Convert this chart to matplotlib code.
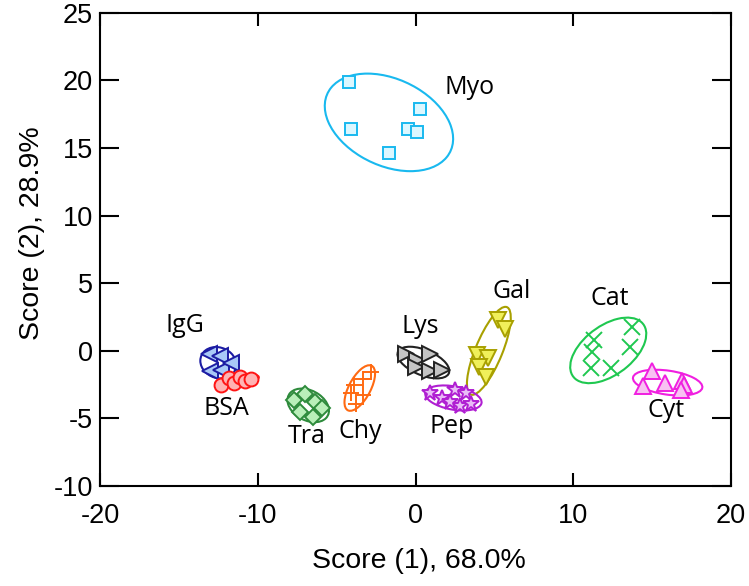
import numpy as np
import matplotlib
matplotlib.use("Agg")
import matplotlib.pyplot as plt
from matplotlib.patches import Ellipse

# PCA scores per protein (score 1, score 2)
names = ["Myo", "IgG", "BSA", "Tra", "Chy", "Lys", "Gal", "Pep", "Cat", "Cyt"]

myo_x = [-4.2, 0.3, -4.1, -0.5, 0.1, -1.7]
myo_y = [19.9, 17.9, 16.4, 16.4, 16.2, 14.6]
igg_x = [-13.1, -13.0, -12.4, -12.3, -11.7]
igg_y = [-0.2, -1.5, -0.4, -1.4, -0.9]
bsa_x = [-12.3, -11.8, -11.5, -11.1, -10.8, -10.4]
bsa_y = [-2.5, -2.0, -2.4, -1.9, -2.2, -2.1]
tra_x = [-7.7, -7.0, -6.4, -7.3, -5.9, -6.5]
tra_y = [-3.6, -3.2, -3.8, -4.5, -4.2, -4.9]
chy_x = [-2.8, -3.3, -3.9, -4.1, -3.3, -3.8]
chy_y = [-1.6, -2.1, -2.5, -3.1, -3.3, -3.9]
lys_x = [-0.6, 0.1, 0.9, 0.0, 0.9, 1.7]
lys_y = [-0.2, -0.7, -0.2, -1.2, -1.5, -1.4]
gal_x = [5.2, 5.7, 3.9, 4.6, 4.0, 4.5]
gal_y = [2.3, 1.6, -0.3, -0.5, -1.2, -1.9]
pep_x = [0.9, 1.7, 2.5, 3.2, 2.8, 3.5, 2.2]
pep_y = [-3.1, -3.5, -2.9, -3.1, -4.1, -3.9, -3.8]
cat_x = [11.3, 13.7, 11.2, 13.6, 11.1, 12.4]
cat_y = [0.8, 1.8, -0.1, 0.3, -1.3, -1.3]
cyt_x = [15.0, 14.4, 15.8, 16.9, 17.0, 16.8]
cyt_y = [-1.5, -2.6, -2.4, -2.2, -2.5, -2.9]

scores = {
    "Myo": (myo_x, myo_y), "IgG": (igg_x, igg_y), "BSA": (bsa_x, bsa_y),
    "Tra": (tra_x, tra_y), "Chy": (chy_x, chy_y), "Lys": (lys_x, lys_y),
    "Gal": (gal_x, gal_y), "Pep": (pep_x, pep_y), "Cat": (cat_x, cat_y),
    "Cyt": (cyt_x, cyt_y),
}

# marker, edge colour, face colour
styles = {
    "Myo": ("s", "#19b9ef", "#dcf7ff"),
    "IgG": ("<", "#1c1ca3", "#a9c9f7"),
    "BSA": ("o", "#ff1414", "#ffb3b3"),
    "Tra": ("D", "#2e8b3c", "#b9efb9"),
    "Chy": ("+", "#ff6a12", "none"),
    "Lys": (">", "#222222", "#c4c4c4"),
    "Gal": ("v", "#a8a000", "#f0f05a"),
    "Pep": ("*", "#b01fd2", "#e9bbf7"),
    "Cat": ("x", "#1fc850", "none"),
    "Cyt": ("^", "#f01fe0", "#f8c2f2"),
}
sizes = {"s": 9, "<": 11, "o": 10, "D": 8, "+": 12, ">": 11, "v": 11,
         "*": 12, "x": 11, "^": 11}

# label anchor for each group
label_pos = {
    "Myo": (3.45, 19.5), "IgG": (-14.6, 1.9), "BSA": (-12.0, -4.3),
    "Tra": (-6.9, -6.3), "Chy": (-3.5, -6.0), "Lys": (0.3, 1.8),
    "Gal": (6.1, 4.4), "Pep": (2.3, -5.6), "Cat": (12.3, 3.9),
    "Cyt": (15.9, -4.4),
}

plt.rcParams["font.family"] = ["Liberation Sans", "DejaVu Sans"]
plt.rcParams["axes.unicode_minus"] = False

fig = plt.figure(figsize=(7.49, 5.86), dpi=100)
ax = fig.add_axes([0.1335, 0.1706, 0.8425, 0.8074])


def confidence_ellipse(x, y, k=2.0, **kw):
    x = np.asarray(x)
    y = np.asarray(y)
    cov = np.cov(x, y)
    vals, vecs = np.linalg.eigh(cov)
    order = vals.argsort()[::-1]
    vals, vecs = vals[order], vecs[:, order]
    angle = np.degrees(np.arctan2(vecs[1, 0], vecs[0, 0]))
    w, h = 2 * k * np.sqrt(vals)
    return Ellipse((x.mean(), y.mean()), w, h, angle=angle, fill=False, **kw)


for name in names:
    x, y = scores[name]
    mk, ec, fc = styles[name]
    ax.add_patch(confidence_ellipse(x, y, edgecolor=ec, lw=1.5, zorder=2))
    ax.plot(x, y, linestyle="none", marker=mk, markersize=sizes[mk],
            markeredgecolor=ec, markerfacecolor=fc, markeredgewidth=1.4,
            color=ec, zorder=3)
    lx, ly = label_pos[name]
    ax.text(lx, ly, name, ha="center", va="center", fontsize=18,
            family=["Open Sans", "DejaVu Sans"], zorder=4)

ax.set_xlim(-20, 20)
ax.set_ylim(-10, 25)
ax.set_xticks([-20, -10, 0, 10, 20])
ax.set_yticks(range(-10, 26, 5))
ax.tick_params(axis="both", direction="in", labelsize=19.5, width=1.5,
               top=True, right=True)
ax.tick_params(axis="y", length=14, pad=5)
ax.tick_params(axis="x", length=9.5, pad=12)
for s in ax.spines.values():
    s.set_linewidth(1.5)

ax.set_xlabel("Score (1), 68.0%", fontsize=20.5)
ax.set_ylabel("Score (2), 28.9%", fontsize=20.5)
ax.xaxis.set_label_coords(0.505, -0.159)
ax.yaxis.set_label_coords(-0.108, 0.535)
ax.xaxis.label.set_va("center")
ax.yaxis.label.set_va("center")

fig.savefig("out.png", dpi=100)
